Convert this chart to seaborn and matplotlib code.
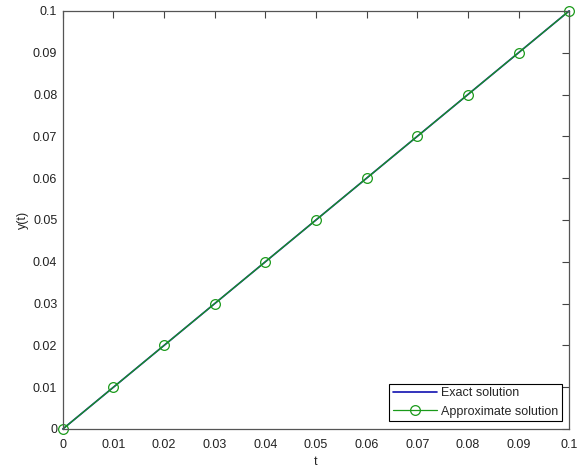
import matplotlib
matplotlib.use("Agg")
import matplotlib.pyplot as plt
import seaborn as sns
import pandas as pd

t_values = [0.0, 0.01, 0.02, 0.03, 0.04, 0.05, 0.06, 0.07, 0.08, 0.09, 0.1]
exact_values = [0.0, 0.01, 0.02, 0.03, 0.04, 0.05, 0.06, 0.07, 0.08, 0.09, 0.1]
approx_values = [0.0, 0.01, 0.02, 0.03, 0.04, 0.05, 0.06, 0.07, 0.08, 0.09, 0.1]
tick_labels = ["0", "0.01", "0.02", "0.03", "0.04", "0.05", "0.06", "0.07", "0.08", "0.09", "0.1"]

sns.set_style("white")
plt.rcParams['font.family'] = ['Liberation Sans', 'DejaVu Sans']

df = pd.DataFrame({"t": t_values, "exact": exact_values, "approx": approx_values})

fig = plt.figure(figsize=(5.82, 4.74), dpi=100)
ax = fig.add_axes([0.108, 0.095, 0.870, 0.882])

sns.lineplot(data=df, x="t", y="exact", ax=ax, color="#1010b0", linewidth=1.2,
             label="Exact solution")
sns.lineplot(data=df, x="t", y="approx", ax=ax, color="#1a9a1a", linewidth=0.9,
             marker="o", markersize=7, markerfacecolor="none", markeredgecolor="#1a9a1a",
             markeredgewidth=0.9, label="Approximate solution")
for line in ax.lines:
    line.set_clip_on(False)

ax.set_xlim(0, 0.1)
ax.set_ylim(0, 0.1)
ax.set_xticks(t_values)
ax.set_xticklabels(tick_labels)
ax.set_yticks(t_values)
ax.set_yticklabels(tick_labels)
ax.tick_params(direction="in", length=5, width=0.8, labelsize=9, colors="#444444",
               top=True, right=True, labelcolor="#222222")
ax.tick_params(axis="x", pad=7)
ax.tick_params(axis="y", pad=4)
for s in ax.spines.values():
    s.set_color("#555555")
    s.set_linewidth(0.9)
ax.set_xlabel("t", fontsize=9, labelpad=4)
ax.set_ylabel("y(t)", fontsize=9, labelpad=3)

leg = ax.legend(loc="lower right", fontsize=9, frameon=True, fancybox=False,
                edgecolor="black", framealpha=1, borderaxespad=0.6, handlelength=3.5,
                borderpad=0.3, labelspacing=0.5, handletextpad=0.3)
leg.get_frame().set_linewidth(0.8)

fig.savefig("out.png", dpi=100)
